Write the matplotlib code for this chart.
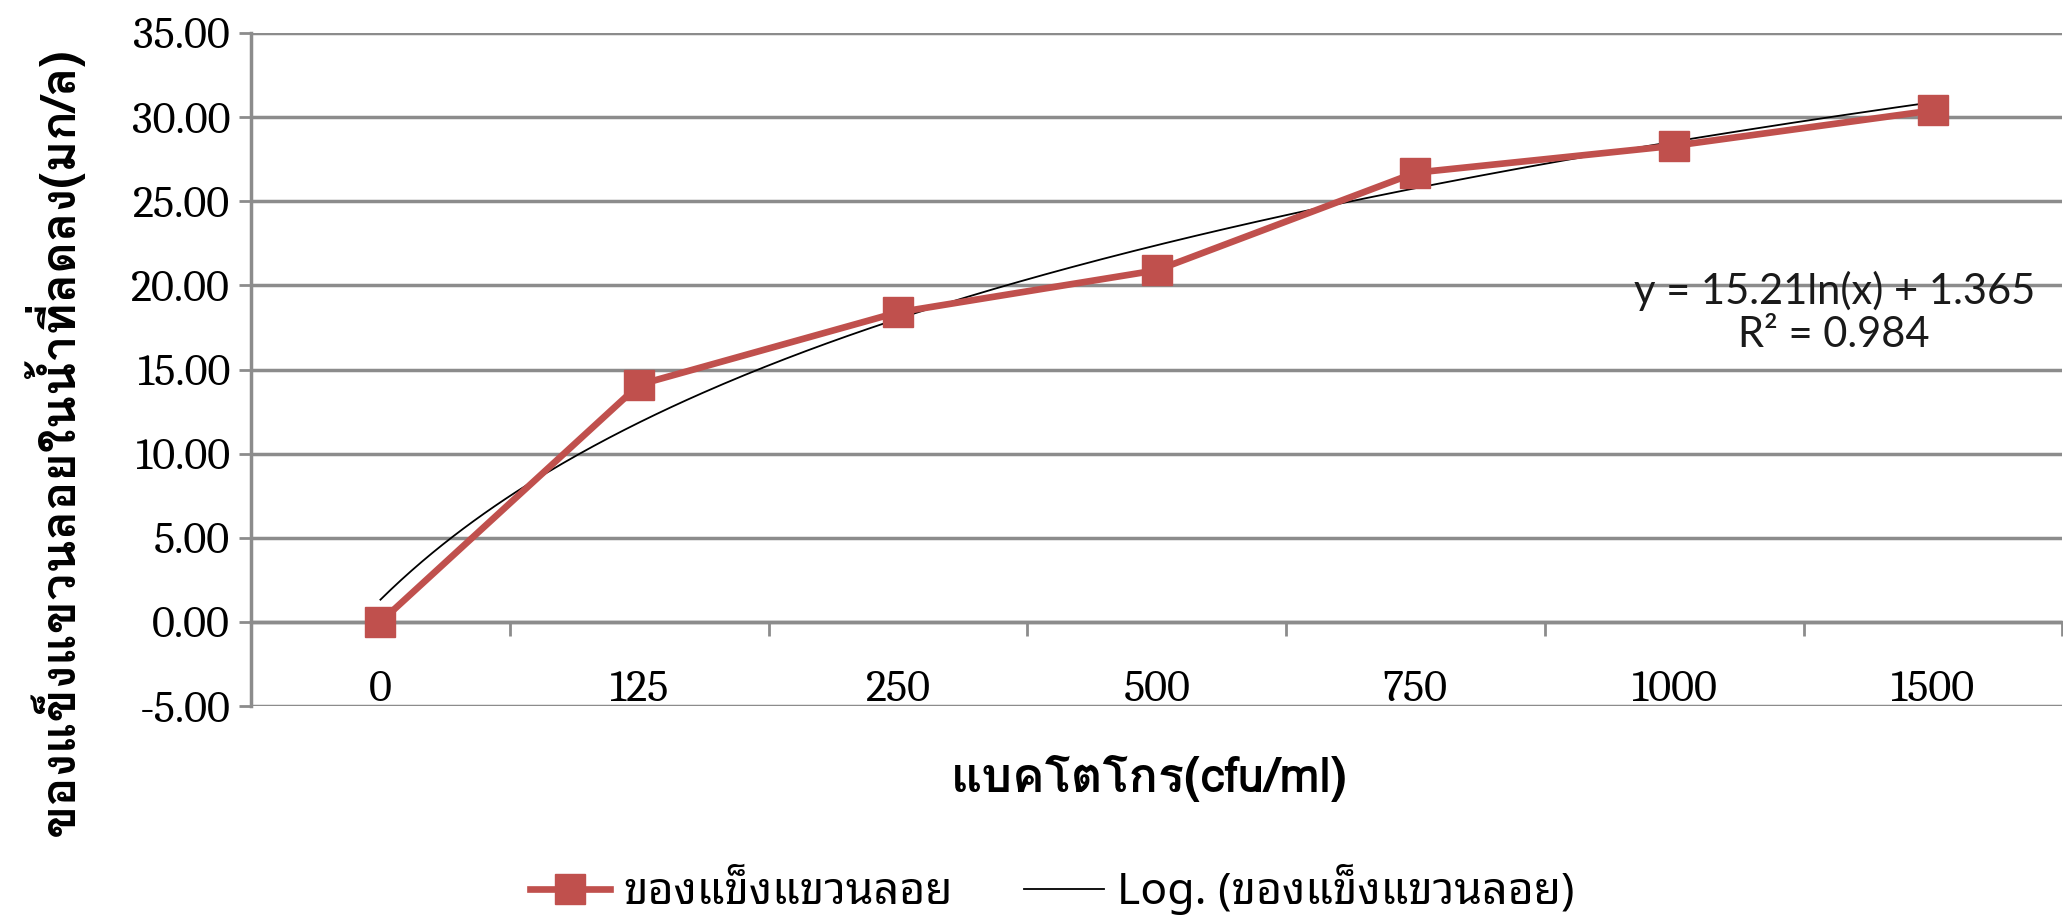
import matplotlib
matplotlib.use("Agg")
import matplotlib.pyplot as plt
import numpy as np

# data
categories = ["0", "125", "250", "500", "750", "1000", "1500"]
solids = [0.0, 14.1, 18.4, 20.9, 26.7, 28.3, 30.4]
y_ticks = [-5, 0, 5, 10, 15, 20, 25, 30, 35]

series_name = "ของแข็งแขวนลอย"
trend_name = "Log. (ของแข็งแขวนลอย)"
x_title = "แบคโตโกร(cfu/ml)"
y_title = "ของแข็งแขวนลอยในน้ำที่ลดลง(มก/ล)"
eq_text = "y = 15.21ln(x) + 1.365\nR² = 0.984"

red = "#c0504d"
grid_c = "#8c8c8c"
tick_font = ["Caladea", "DejaVu Serif"]
title_font = ["Loma", "DejaVu Sans"]
legend_font = ["Noto Sans Thai Looped", "Loma", "DejaVu Sans"]

fig = plt.figure(figsize=(20.63, 9.17), dpi=100)
ax = fig.add_axes([0.1217, 0.230, 0.878, 0.734])

x = np.arange(len(categories))
ax.set_xlim(-0.5, len(categories) - 0.5)
ax.set_ylim(-5, 35)

# log trend fitted on category index 1..n
idx = x + 1
a, b = np.polyfit(np.log(idx), solids, 1)
xs = np.linspace(1, len(categories), 300)
ax.plot(xs - 1, a * np.log(xs) + b, color="black", lw=1.3, zorder=3)

ax.plot(x, solids, color=red, lw=4.8, marker="s", markersize=21,
        markeredgecolor=red, zorder=4)

ax.set_yticks(y_ticks)
ax.set_yticklabels([f"{v:.2f}" for v in y_ticks], family=tick_font, fontsize=32,
                   color="black")
ax.yaxis.grid(True, color=grid_c, lw=2.5)
ax.set_axisbelow(True)
ax.tick_params(axis="y", length=9, width=2, color=grid_c, pad=6)

# category axis sits at y = 0, labels at the bottom
ax.spines["bottom"].set_position(("data", 0))
ax.set_xticks(np.arange(-0.5, len(categories), 1))
ax.set_xticklabels([])
ax.tick_params(axis="x", length=10, width=2, color=grid_c)
for s in ["top", "right"]:
    ax.spines[s].set_visible(False)
for s in ["left", "bottom"]:
    ax.spines[s].set_color(grid_c)
    ax.spines[s].set_linewidth(2.5)

for i, lab in enumerate(categories):
    ax.text(i, 0.024, lab, transform=ax.get_xaxis_transform(), ha="center",
            va="center", family=tick_font, fontsize=32, color="black")

ax.text(0.874, 0.585, eq_text, transform=ax.transAxes, ha="center", va="center",
        family=["Lato", "DejaVu Sans"], fontsize=30, linespacing=1.15, color="#1a1a1a")

fig.text(0.026, 0.518, y_title, rotation=90, ha="center", va="center",
         family=title_font, fontsize=35, fontweight="bold")
fig.text(0.557, 0.151, x_title, ha="center", va="center",
         family=title_font, fontsize=35, fontweight="bold")

h1, = ax.plot([], [], color=red, lw=4.8, marker="s", markersize=21, markeredgecolor=red)
h2, = ax.plot([], [], color="black", lw=1.3)
fig.legend([h1, h2], [series_name, trend_name], loc="center", ncol=2,
           bbox_to_anchor=(0.51, 0.03), frameon=False,
           prop={"family": legend_font, "size": 32},
           handlelength=1.8, columnspacing=1.6, handletextpad=0.3,
           borderpad=0.1)

fig.savefig("out.png", dpi=100)
